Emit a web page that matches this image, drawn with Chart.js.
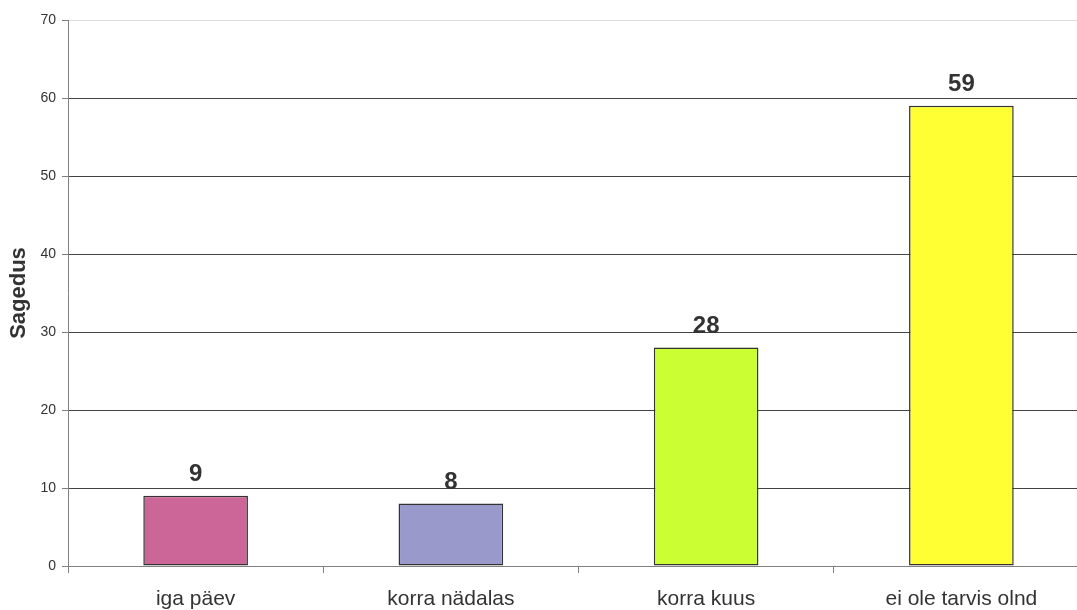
<!DOCTYPE html>
<html>
<head>
<meta charset="utf-8">
<script src="https://cdn.jsdelivr.net/npm/chart.js@4.4.0/dist/chart.umd.min.js"></script>
<style>
  html, body { margin: 0; padding: 0; background: #fff; overflow: hidden; width: 1077px; height: 610px; }
  #wrap { width: 1090px; height: 610px; }
</style>
</head>
<body>
<div id="wrap"><canvas id="myChart"></canvas></div>
<script>
  // chart data
  const categories = ['iga päev', 'korra nädalas', 'korra kuus', 'ei ole tarvis olnd'];
  const counts = [9, 8, 28, 59];
  const barColors = ['#CC6699', '#9999CC', '#CCFF33', '#FFFF33'];
  const axisTitle = 'Sagedus';

  const FONT = "'Liberation Sans', Arial, sans-serif";

  // draws the value above each bar
  const valueLabels = {
    id: 'valueLabels',
    afterDatasetsDraw(chart) {
      const ctx = chart.ctx;
      const meta = chart.getDatasetMeta(0);
      ctx.save();
      ctx.font = 'bold 24px ' + FONT;
      ctx.fillStyle = '#333333';
      ctx.textAlign = 'center';
      ctx.textBaseline = 'alphabetic';
      meta.data.forEach(function (bar, i) {
        ctx.fillText(String(counts[i]), bar.x, bar.y - 15);
      });
      ctx.restore();
    }
  };

  const ctx = document.getElementById('myChart').getContext('2d');
  const chart = new Chart(ctx, {
    type: 'bar',
    data: {
      labels: categories,
      datasets: [{
        data: counts,
        backgroundColor: barColors,
        borderColor: '#333333',
        borderWidth: 1.5,
        borderSkipped: false,
        categoryPercentage: 1,
        barPercentage: 0.41
      }]
    },
    options: {
      responsive: true,
      maintainAspectRatio: false,
      animation: false,
      layout: { padding: { top: 20, right: 1, left: 0, bottom: 0 } },
      plugins: {
        legend: { display: false },
        tooltip: { enabled: false }
      },
      scales: {
        x: {
          offset: true,
          grid: {
            offset: true,
            drawOnChartArea: false,
            drawTicks: true,
            tickLength: 7,
            color: '#808080'
          },
          border: { color: '#808080', width: 1 },
          ticks: {
            color: '#333333',
            font: { family: FONT, size: 21 },
            padding: 14,
            maxRotation: 0
          },
          afterFit: function (scale) { scale.height = 44; }
        },
        y: {
          min: 0,
          max: 70,
          ticks: {
            stepSize: 10,
            color: '#333333',
            font: { family: FONT, size: 14 },
            padding: 6
          },
          grid: {
            color: function (c) {
              if (c.tick && c.tick.value === 70) return '#dddddd';
              return '#444444';
            },
            tickColor: '#808080',
            tickLength: 6
          },
          border: { color: '#808080', width: 1 },
          title: {
            display: true,
            text: axisTitle,
            color: '#333333',
            font: { family: FONT, size: 22, weight: 'bold' },
            padding: { top: 6, bottom: 0 }
          },
          afterFit: function (scale) { scale.width = 68; }
        }
      }
    },
    plugins: [valueLabels]
  });
</script>
</body>
</html>
